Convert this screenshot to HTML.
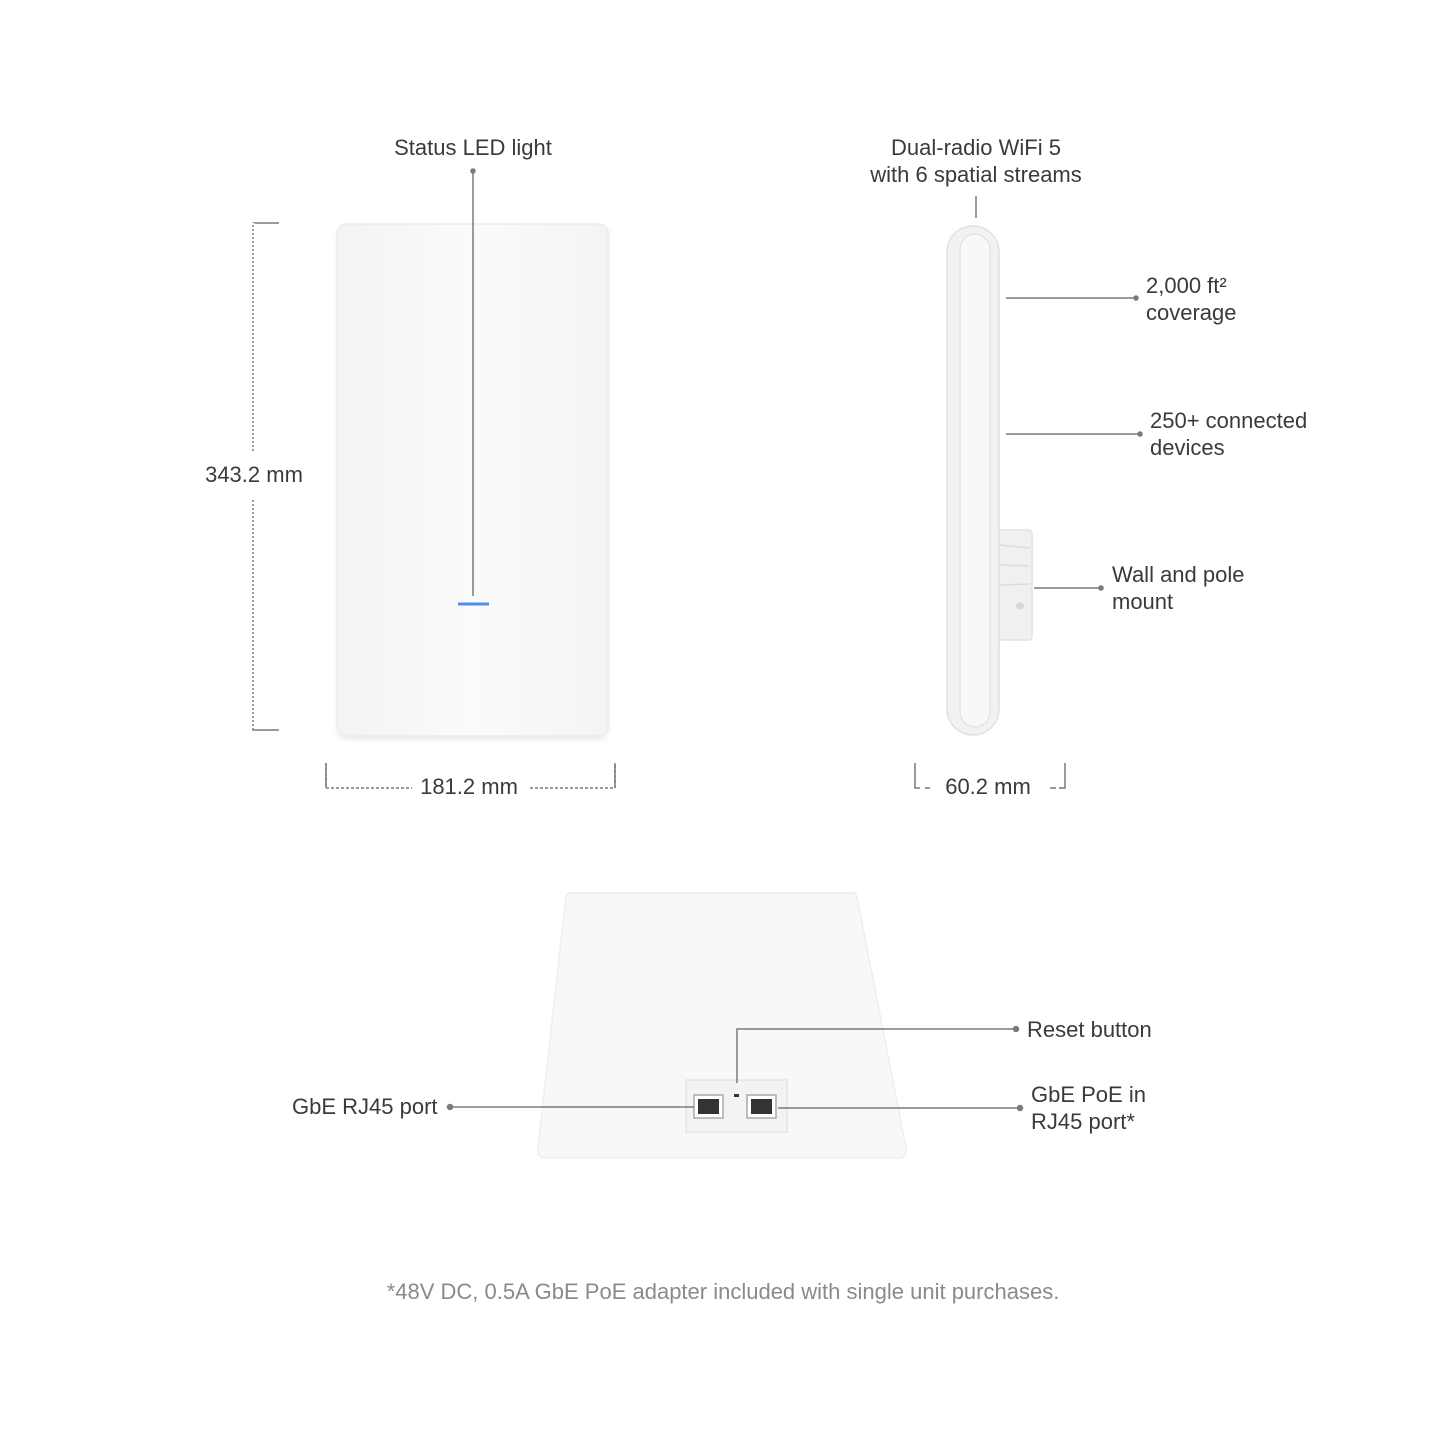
<!DOCTYPE html>
<html><head><style>
html,body{margin:0;padding:0;background:#fff;}
svg{display:block;}
text{font-family:"Liberation Sans",sans-serif;font-size:22px;fill:#3a3a3a;}
</style></head><body>
<svg width="1445" height="1445" viewBox="0 0 1445 1445" xmlns="http://www.w3.org/2000/svg">
<defs>
<filter id="sh" x="-20%" y="-20%" width="140%" height="140%"><feGaussianBlur stdDeviation="3"/></filter>
<linearGradient id="fr" x1="0" y1="0" x2="1" y2="0"><stop offset="0" stop-color="#f3f3f3"/><stop offset="0.5" stop-color="#fbfbfb"/><stop offset="1" stop-color="#f4f4f4"/></linearGradient>
</defs>
<g stroke="#7a7a7a" fill="none" stroke-width="1.5">
<!-- front device -->
<rect x="338" y="227" width="270" height="512" rx="9" fill="#e8e8e8" stroke="none" filter="url(#sh)"/>
<rect x="337" y="224" width="271" height="512" rx="9" fill="url(#fr)" stroke="#ececec"/>
<line x1="473" y1="171" x2="473" y2="596"/>
<circle cx="473" cy="171" r="2" fill="#7a7a7a"/>
<line x1="458" y1="604" x2="489" y2="604" stroke="#4a90f0" stroke-width="3"/>
<!-- height dim -->
<path d="M279 223 H253 V730 H279"/>
<line x1="253" y1="223" x2="253" y2="452" stroke="#fff" stroke-width="3" stroke-dasharray="2 2"/>
<line x1="253" y1="498" x2="253" y2="730" stroke="#fff" stroke-width="3" stroke-dasharray="2 2"/>
<line x1="253" y1="452" x2="253" y2="498" stroke="#fff" stroke-width="4"/>
<!-- width dim -->
<path d="M326 763 V788 H412 M530 788 H615 V763" stroke-dasharray="3 2"/>
<line x1="326" y1="763" x2="326" y2="788"/><line x1="615" y1="763" x2="615" y2="788"/>
<!-- side device -->
<rect x="998" y="530" width="34" height="110" rx="3" fill="#f0f0f0" stroke="#e2e2e2"/>
<path d="M1000 545 L1030 548 M1000 565 L1030 566 M1000 585 L1030 584" stroke="#dcdcdc"/>
<ellipse cx="1020" cy="606" rx="4" ry="3.5" fill="#d8d8d8" stroke="none"/>
<rect x="947" y="226" width="52" height="509" rx="26" fill="#f2f2f2" stroke="#e0e0e0"/>
<rect x="960" y="234" width="30" height="493" rx="15" fill="#f8f8f8" stroke="#e4e4e4"/>
<line x1="976" y1="196" x2="976" y2="218"/>
<line x1="1006" y1="298" x2="1136" y2="298"/><circle cx="1136" cy="298" r="2" fill="#7a7a7a"/>
<line x1="1006" y1="434" x2="1140" y2="434"/><circle cx="1140" cy="434" r="2" fill="#7a7a7a"/>
<line x1="1034" y1="588" x2="1101" y2="588"/><circle cx="1101" cy="588" r="2" fill="#7a7a7a"/>
<path d="M915 763 V788 H920 M925 788 H930 M1050 788 H1056 M1059 788 H1065 V763"/>
<!-- bottom device -->
<path d="M570 893 H853 Q856 893 857 897 L906 1148 Q907 1158 898 1158 H546 Q537 1158 538 1148 L566 897 Q567 893 570 893 Z" fill="#f8f8f8" stroke="#eeeeee"/>
<rect x="686" y="1080" width="101" height="52" fill="#f3f3f3" stroke="#e4e4e4"/>
<rect x="694" y="1095" width="29" height="23" fill="#fff" stroke="#aaa"/>
<rect x="698" y="1099" width="21" height="15" fill="#333" stroke="none"/>
<rect x="747" y="1095" width="29" height="23" fill="#fff" stroke="#aaa"/>
<rect x="751" y="1099" width="21" height="15" fill="#333" stroke="none"/>
<rect x="734" y="1094" width="5" height="3" fill="#333" stroke="none"/>
<line x1="450" y1="1107" x2="694" y2="1107"/><circle cx="450" cy="1107" r="2.5" fill="#7a7a7a"/>
<path d="M737 1083 V1029 H1016"/><circle cx="1016" cy="1029" r="2.5" fill="#7a7a7a"/>
<line x1="778" y1="1108" x2="1020" y2="1108"/><circle cx="1020" cy="1108" r="2.5" fill="#7a7a7a"/>
</g>
<text x="473" y="155" text-anchor="middle">Status LED light</text>
<text x="254" y="482" text-anchor="middle">343.2 mm</text>
<text x="469" y="794" text-anchor="middle">181.2 mm</text>
<text x="976" y="155" text-anchor="middle">Dual-radio WiFi 5</text>
<text x="976" y="182" text-anchor="middle">with 6 spatial streams</text>
<text x="1146" y="293">2,000 ft²</text>
<text x="1146" y="320">coverage</text>
<text x="1150" y="428">250+ connected</text>
<text x="1150" y="455">devices</text>
<text x="1112" y="582">Wall and pole</text>
<text x="1112" y="609">mount</text>
<text x="988" y="794" text-anchor="middle">60.2 mm</text>
<text x="1027" y="1037">Reset button</text>
<text x="292" y="1114">GbE RJ45 port</text>
<text x="1031" y="1102">GbE PoE in</text>
<text x="1031" y="1129">RJ45 port*</text>
<text x="723" y="1299" text-anchor="middle" style="fill:#8a8a8a">*48V DC, 0.5A GbE PoE adapter included with single unit purchases.</text>
</svg>
</body></html>
